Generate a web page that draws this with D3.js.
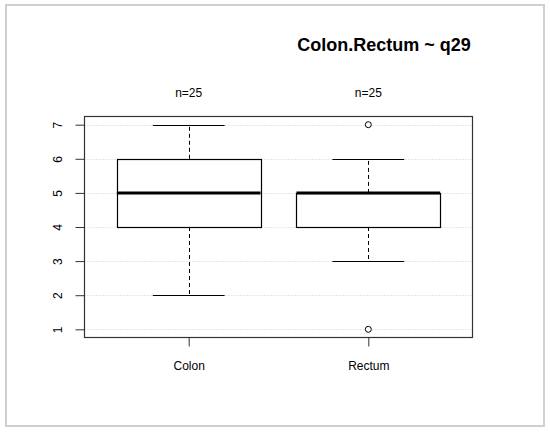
<!DOCTYPE html>
<html>
<head>
<meta charset="utf-8">
<script src="https://cdn.jsdelivr.net/npm/d3@7"></script>
<style>
  html, body { margin: 0; padding: 0; background: #fff; }
  svg { display: block; }
  text { font-family: "Liberation Sans", Arial, sans-serif; fill: #000; }
</style>
</head>
<body>
<svg id="chart" width="550" height="433"></svg>
<script>
// ---- data ----
const categories = ["Colon", "Rectum"];
const counts = [25, 25];
const whiskerLow = [2, 3];
const q1 = [4, 4];
const median = [5, 5];
const q3 = [6, 5];
const whiskerHigh = [7, 6];
const outliers = [[], [1, 7]];
const yTicks = [1, 2, 3, 4, 5, 6, 7];
const title = "Colon.Rectum ~ q29";

// ---- layout ----
const svg = d3.select("#chart");
const plot = { left: 84.5, right: 472.5, top: 116.5, bottom: 337.5 };

// outer light border
svg.append("rect")
  .attr("x", 6).attr("y", 5).attr("width", 538).attr("height", 421)
  .attr("fill", "#fff").attr("stroke", "#cfcfcf").attr("stroke-width", 2);

const yMin = d3.min([...whiskerLow, ...outliers.flat()]);
const yMax = d3.max([...whiskerHigh, ...outliers.flat()]);
const yPad = (yMax - yMin) * 0.04;
const y = d3.scaleLinear().domain([yMin - yPad, yMax + yPad]).range([plot.bottom, plot.top]);

const xPad = (categories.length) * 0.04;
const x = d3.scaleLinear().domain([0.5 - xPad, categories.length + 0.5 + xPad]).range([plot.left, plot.right]);

// grid lines
svg.append("g").selectAll("line").data(yTicks).join("line")
  .attr("x1", plot.left).attr("x2", plot.right)
  .attr("y1", d => Math.round(y(d)) + 0.5).attr("y2", d => Math.round(y(d)) + 0.5)
  .attr("stroke", "#cfcfcf").attr("stroke-width", 1).attr("stroke-dasharray", "1,2");

const data = categories.map((c, i) => ({
  cat: c, i: i + 1, n: counts[i], lo: whiskerLow[i], q1: q1[i], med: median[i],
  q3: q3[i], hi: whiskerHigh[i], out: outliers[i]
}));

const boxW = 0.8, capW = 0.4;
const g = svg.append("g");
data.forEach(d => {
  const cx = Math.round(x(d.i)) + 0.5;
  // whiskers (dashed)
  g.append("line").attr("x1", cx).attr("x2", cx).attr("y1", y(d.q3)).attr("y2", y(d.hi))
    .attr("stroke", "#000").attr("stroke-dasharray", "4,3");
  g.append("line").attr("x1", cx).attr("x2", cx).attr("y1", y(d.q1)).attr("y2", y(d.lo))
    .attr("stroke", "#000").attr("stroke-dasharray", "4,3");
  // caps
  [d.lo, d.hi].forEach(v => {
    g.append("line").attr("x1", x(d.i - capW / 2)).attr("x2", x(d.i + capW / 2))
      .attr("y1", Math.round(y(v)) + 0.5).attr("y2", Math.round(y(v)) + 0.5)
      .attr("stroke", "#000").attr("stroke-width", 1.2);
  });
  // box
  g.append("rect")
    .attr("x", Math.round(x(d.i - boxW / 2)) + 0.5)
    .attr("y", Math.round(y(d.q3)) + 0.5)
    .attr("width", Math.round(x(d.i + boxW / 2)) - Math.round(x(d.i - boxW / 2)))
    .attr("height", Math.max(0, Math.round(y(d.q1)) - Math.round(y(d.q3))))
    .attr("fill", "#fff").attr("stroke", "#000").attr("stroke-width", 1.2);
  // median
  g.append("line").attr("x1", x(d.i - boxW / 2)).attr("x2", x(d.i + boxW / 2))
    .attr("y1", y(d.med)).attr("y2", y(d.med))
    .attr("stroke", "#000").attr("stroke-width", 3);
  // outliers
  d.out.forEach(v => {
    g.append("circle").attr("cx", x(d.i)).attr("cy", y(v)).attr("r", 3)
      .attr("fill", "#fff").attr("stroke", "#000").attr("stroke-width", 1);
  });
  // n labels
  svg.append("text").attr("x", x(d.i)).attr("y", 97).attr("text-anchor", "middle")
    .style("font-size", "12px").text("n=" + d.n);
});

// frame
svg.append("rect")
  .attr("x", plot.left).attr("y", plot.top)
  .attr("width", plot.right - plot.left).attr("height", plot.bottom - plot.top)
  .attr("fill", "none").attr("stroke", "#333").attr("stroke-width", 1.2);

// y axis
const yAxis = svg.append("g").attr("transform", `translate(${plot.left},0)`)
  .call(d3.axisLeft(y).tickValues(yTicks).tickFormat(d3.format("d")).tickSize(9));
yAxis.select(".domain").remove();
yAxis.selectAll(".tick line").attr("stroke", "#333");
yAxis.selectAll(".tick text")
  .attr("x", null).attr("dy", null)
  .attr("transform", "translate(-23,0) rotate(-90)")
  .attr("text-anchor", "middle")
  .style("font-size", "12px").style("font-family", "Liberation Sans, Arial, sans-serif").attr("fill", "#000");

// x axis
const xAxis = svg.append("g").attr("transform", `translate(0,${plot.bottom})`)
  .call(d3.axisBottom(x).tickValues(data.map(d => d.i)).tickFormat(i => categories[i - 1]).tickSize(9));
xAxis.select(".domain").remove();
xAxis.selectAll(".tick line").attr("stroke", "#333");
xAxis.selectAll(".tick text")
  .attr("y", 32).attr("dy", null)
  .style("font-size", "12px").style("font-family", "Liberation Sans, Arial, sans-serif").attr("fill", "#000");

// title
svg.append("text").attr("x", 384).attr("y", 51).attr("text-anchor", "middle")
  .style("font-size", "18px").style("font-weight", "bold").text(title);
</script>
</body>
</html>
